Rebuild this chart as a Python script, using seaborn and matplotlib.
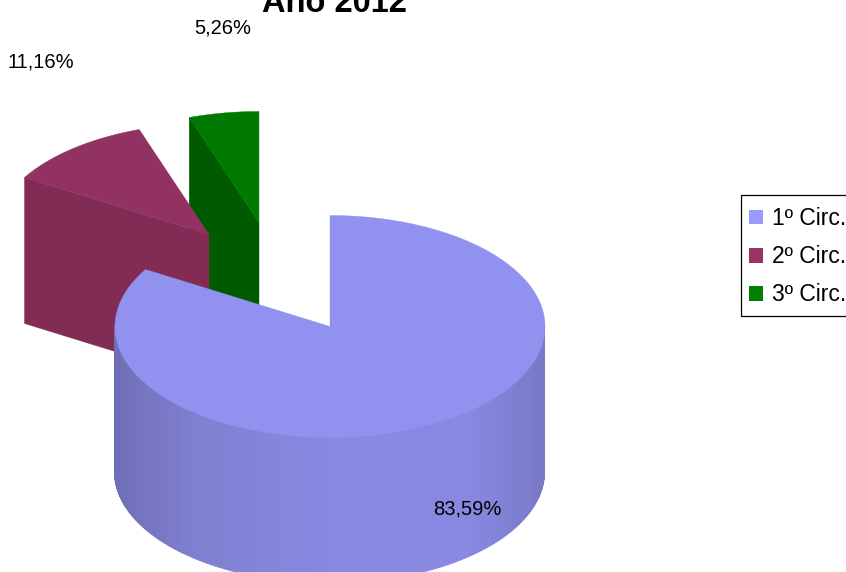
import numpy as np
import matplotlib
matplotlib.use("Agg")
import matplotlib.pyplot as plt
from matplotlib.collections import PolyCollection
from matplotlib.patches import Patch, Rectangle
import seaborn as sns

title = "Ano 2012"
categories = ["1º Circ.", "2º Circ.", "3º Circ."]
shares = [83.59, 11.16, 5.26]
labels = ["83,59%", "11,16%", "5,26%"]

sns.set_theme(style="white")
plt.rcParams["font.family"] = ["Liberation Sans", "DejaVu Sans"]
legend_colors = sns.color_palette(["#9999FF", "#993366", "#008000"])
top_colors = ["#9191F0", "#923263", "#007A00"]
wall_colors = ["#8888E2", "#822B55", "#005A00"]

# pie geometry in pixel units
CX, CY, RX, RY, DEPTH = 329.5, 326, 215, 111, 146
offsets = [(0, 0), (-121, -92), (-71, -104)]
label_pos = [(467, 509), (41, 62), (223, 28)]

fig = plt.figure(figsize=(8.46, 5.72), dpi=100)
ax = fig.add_axes([0, 0, 1, 1])
ax.set_xlim(0, 846)
ax.set_ylim(572, 0)
ax.axis("off")


def ell(cx, cy, deg):
    t = np.radians(deg)
    return np.column_stack([cx + RX * np.cos(t), cy - RY * np.sin(t)])


spans = np.array(shares) / sum(shares) * 360
starts = 90 - np.concatenate([[0], np.cumsum(spans)[:-1]])
ends = starts - spans

# back slices first: 3rd, then 2nd, then the large one on top
for i in [2, 1]:
    cx, cy = CX + offsets[i][0], CY + offsets[i][1]
    a0, a1 = starts[i], ends[i]
    edge_a = ell(cx, cy, a0)[0]
    wall = [edge_a, (cx, cy), (cx, cy + DEPTH), edge_a + (0, DEPTH)]
    z = i * -2 + 6
    ax.add_collection(PolyCollection([wall], facecolors=wall_colors[i],
                                     edgecolors=wall_colors[i], linewidths=0.3, zorder=z))
    arc = ell(cx, cy, np.linspace(a0, a1, 60))
    top = np.vstack([[(cx, cy)], arc])
    ax.add_collection(PolyCollection([top], facecolors=top_colors[i],
                                     edgecolors=top_colors[i], linewidths=0.3, zorder=z + 0.5))

# big slice: shaded outer wall
angs = np.linspace(180, 360, 181)
pts = ell(CX, CY, angs)
segs, cols = [], []
anchors = [115, 200, 340, 470, 545]
for p, q in zip(pts[:-1], pts[1:]):
    segs.append([p, q, q + (0, DEPTH), p + (0, DEPTH)])
    x = (p[0] + q[0]) / 2
    rg = np.interp(x, anchors, [0x6E, 0x80, 0x88, 0x88, 0x78]) / 255
    b = np.interp(x, anchors, [0xB6, 0xD2, 0xE2, 0xE2, 0xC6]) / 255
    cols.append((rg, rg, b))
ax.add_collection(PolyCollection(segs, facecolors=cols, edgecolors=cols, linewidths=0.6, zorder=8))
arc = ell(CX, CY, np.linspace(starts[0], ends[0], 300))
ax.add_collection(PolyCollection([np.vstack([[(CX, CY)], arc])], facecolors=top_colors[0],
                                 edgecolors=top_colors[0], linewidths=0.3, zorder=9))

for s, (x, y) in zip(labels, label_pos):
    ax.text(x, y, s, ha="center", va="center", fontsize=14.5, color="black", zorder=10)

ax.text(334.5, 12, title, ha="center", va="baseline", fontsize=23.5,
        fontweight="bold", color="black", zorder=10)

ax.add_patch(Rectangle((741, 195), 130, 120.5, facecolor="white", edgecolor="black",
                       linewidth=0.9, zorder=10.5))
handles = [Patch(facecolor=c, edgecolor="none") for c in legend_colors]
leg = ax.legend(handles, categories, loc="upper left", bbox_to_anchor=(749, 207),
                bbox_transform=ax.transData, borderaxespad=0, fontsize=16.5,
                frameon=False, handlelength=0.61, handleheight=0.61, handletextpad=0.39,
                borderpad=0, labelspacing=0.665, labelcolor="black")
leg.set_zorder(11)
sns.despine(ax=ax, left=True, bottom=True)

fig.savefig("out.png", dpi=100, facecolor="white")
